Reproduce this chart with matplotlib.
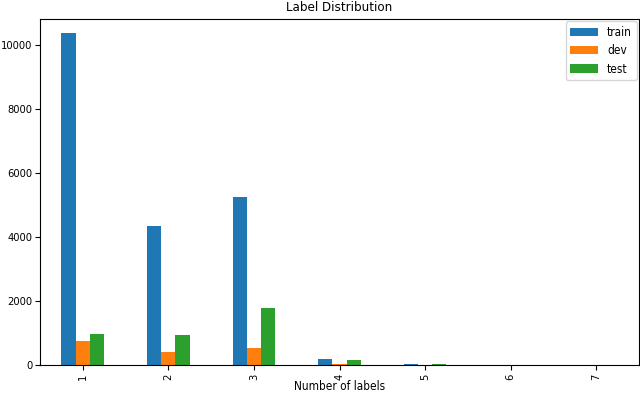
import numpy as np
import pandas as pd
import matplotlib
matplotlib.use('Agg')
import matplotlib.pyplot as plt

plt.rcParams['font.family'] = ['DejaVu Sans']
plt.rcParams['font.stretch'] = 'condensed'

# data
n_labels = ['1', '2', '3', '4', '5', '6', '7']
train = [10375, 4344, 5250, 187, 30, 3, 2]
dev = [750, 406, 531, 30, 3, 1, 0]
test = [970, 937, 1780, 156, 25, 2, 1]

df = pd.DataFrame({'train': train, 'dev': dev, 'test': test}, index=n_labels)

fig = plt.figure(figsize=(6.4, 3.93), dpi=100)
ax = fig.add_axes([40 / 640, 28 / 393, 599 / 640, 346 / 393])

df.plot.bar(ax=ax)

ax.set_xlim(-0.5, 6.5)
ax.set_ylim(0, 10800)
ax.tick_params(labelsize=8, pad=2.5)
ax.tick_params(axis='y', pad=2)
ax.set_title('Label Distribution', fontsize=9.5, pad=6)
ax.set_xlabel('Number of labels', fontsize=8.5, labelpad=0.5)
ax.legend(fontsize=8.5, loc='upper right', borderaxespad=0.2,
          handlelength=2.3, labelspacing=0.45)

fig.savefig('out.png', dpi=100)
